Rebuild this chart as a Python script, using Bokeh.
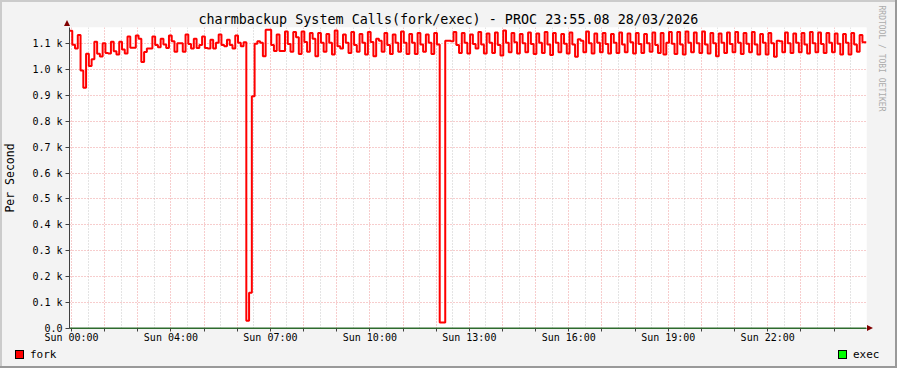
from bokeh.plotting import figure
from bokeh.layouts import column
from bokeh.models import FixedTicker, Range1d, Title, Div
from bokeh.embed import file_html
from bokeh.resources import INLINE

# ---------------- data ----------------
title_text = "charmbackup System Calls(fork/exec) - PROC 23:55.08 28/03/2026"
y_axis_title = "Per Second"
watermark = "RRDTOOL / TOBI OETIKER"
series_names = ["fork", "exec"]
series_colors = ["#ff0000", "#00ff00"]

x_tick_hours = [0, 3, 6, 9, 12, 15, 18, 21]
x_tick_labels = ["Sun 00:00", "Sun 04:00", "Sun 07:00", "Sun 10:00",
                 "Sun 13:00", "Sun 16:00", "Sun 19:00", "Sun 22:00"]
y_tick_values = [0, 100, 200, 300, 400, 500, 600, 700, 800, 900, 1000, 1100]
y_tick_labels = ["0.0", "0.1 k", "0.2 k", "0.3 k", "0.4 k", "0.5 k", "0.6 k",
                 "0.7 k", "0.8 k", "0.9 k", "1.0 k", "1.1 k"]

start_hour = -0.06      # hours since Sun 00:00 (real elapsed time)
end_hour = 23.98
sample_minutes = 5

fork_values = [
    1149, 1095, 1081, 1133, 996, 929, 1061, 1013, 1039, 1107,
    1061, 1050, 1101, 1064, 1062, 1107, 1070, 1058, 1107, 1077,
    1062, 1127, 1084, 1084, 1131, 1119, 1029, 1067, 1081, 1081,
    1127, 1094, 1086, 1119, 1096, 1083, 1131, 1109, 1068, 1101,
    1101, 1068, 1135, 1098, 1081, 1119, 1083, 1094, 1127, 1083,
    1081, 1115, 1081, 1103, 1135, 1094, 1090, 1115, 1094, 1081,
    1131, 1103, 1090, 1105,
    30, 138, 897,
    1099, 1109, 1103, 1051,
    1153, 1153, 1094, 1071, 1135, 1071, 1071, 1147, 1098, 1068,
    1145, 1124, 1060, 1147, 1106, 1068, 1141, 1119, 1051, 1141,
    1103, 1068, 1137, 1103, 1058, 1150, 1090, 1081, 1135, 1103,
    1064, 1145, 1094, 1068, 1137, 1103, 1058, 1145, 1106, 1051,
    1119, 1111, 1068, 1141, 1094, 1060, 1135, 1103, 1068, 1147,
    1103, 1060, 1137, 1103, 1060, 1141, 1096, 1068, 1135, 1103,
    1060, 1141, 1096, 23, 23, 1111, 1111, 1109, 1145, 1094,
    1064,
    1141, 1103, 1062, 1135, 1098, 1081, 1145, 1096, 1062, 1139,
    1103, 1064, 1143, 1094, 1054, 1150, 1103, 1066, 1141, 1105,
    1062, 1137, 1101, 1066, 1143, 1098, 1060, 1139, 1103, 1064,
    1145, 1096, 1056, 1141, 1103, 1066, 1137, 1099, 1062, 1143,
    1096, 1049, 1117, 1111, 1066, 1147, 1101, 1062, 1139, 1103,
    1066, 1141, 1098, 1062, 1137, 1103, 1064, 1143, 1096, 1066,
    1139, 1105, 1062, 1141, 1098, 1064, 1137, 1101, 1068, 1143,
    1094, 1064, 1141,
    1058, 1103, 1145, 1099, 1060, 1145, 1096, 1058, 1147, 1103,
    1066, 1143, 1101, 1064, 1147, 1096, 1062, 1141, 1101, 1051,
    1139, 1103, 1064, 1143, 1098, 1066, 1145, 1103, 1060, 1141,
    1099, 1066, 1145, 1096, 1058, 1137, 1103, 1058, 1141, 1101,
    1049, 1111, 1109, 1066, 1143, 1101, 1064, 1139, 1103, 1066,
    1141, 1096, 1062, 1145, 1101, 1066, 1143, 1098, 1064, 1141,
    1103, 1066, 1139, 1099, 1058, 1137, 1103, 1058, 1141, 1096,
    1068, 1133, 1105,
]
exec_values = [0, 0]

# ---------------- build ----------------
FONT = "DejaVu Sans Mono"
BG = "#f3f3f3"
SHADE_A = "#cbcbcb"
SHADE_B = "#999999"
ARROW = "#800000"

fork_times = [start_hour + i * sample_minutes / 60.0 for i in range(len(fork_values))]
fork_x = fork_times + [end_hour]
fork_y = fork_values + [fork_values[-1]]
exec_x = [start_hour, end_hour]

p = figure(width=897, height=345, output_backend="svg", toolbar_location=None,
           x_range=Range1d(start_hour, end_hour), y_range=Range1d(0, 1162),
           min_border_left=67, min_border_right=30, min_border_top=27,
           min_border_bottom=17)
p.background_fill_color = "#ffffff"
p.border_fill_color = BG
p.outline_line_color = None

# title (above) and watermark (right side, vertical)
p.title.text = title_text
p.title.text_font = FONT
p.title.text_font_size = "13.4px"
p.title.text_font_style = "normal"
p.title.text_color = "#000000"
p.title.align = "left"
p.title.offset = 129
p.title.standoff = 2

p.add_layout(Title(text=watermark, align="left", text_font=FONT, text_font_size="8px",
                   text_font_style="normal", text_color="#ababab", standoff=20,
                   offset=-22), "right")

# axes
hours_all = list(range(0, 24))
half_hours = [h + 0.5 for h in range(-1, 24)]
p.xaxis.ticker = FixedTicker(ticks=hours_all, minor_ticks=half_hours)
overrides = {h: "" for h in hours_all}
for h, lab in zip(x_tick_hours, x_tick_labels):
    overrides[h] = lab
p.xaxis.major_label_overrides = overrides
p.yaxis.ticker = FixedTicker(ticks=y_tick_values)
p.yaxis.major_label_overrides = dict(zip(y_tick_values, y_tick_labels))

for ax in (p.xaxis[0], p.yaxis[0]):
    ax.major_label_text_font = FONT
    ax.major_label_text_font_size = "10px"
    ax.major_label_text_color = "#000000"
    ax.axis_line_color = "#404040"
    ax.major_tick_line_color = "#404040"
    ax.major_tick_in = 0
    ax.minor_tick_in = 0
    ax.minor_tick_out = 0
p.xaxis.major_tick_out = 3
p.xaxis.major_label_standoff = 0
p.xaxis.axis_line_color = "#2d6b2d"
p.yaxis.major_tick_out = 4
p.yaxis.major_label_standoff = 3
p.yaxis.axis_label = y_axis_title
p.yaxis.axis_label_text_font = FONT
p.yaxis.axis_label_text_font_size = "11.5px"
p.yaxis.axis_label_text_font_style = "normal"
p.yaxis.axis_label_text_color = "#000000"
p.yaxis.axis_label_standoff = 12

# grids
p.xgrid.grid_line_color = "#ee9a9a"
p.xgrid.grid_line_dash = "1 2"
p.xgrid.minor_grid_line_color = "#c8c8c8"
p.xgrid.minor_grid_line_dash = "1 2"
p.ygrid.grid_line_color = "#ee9a9a"
p.ygrid.grid_line_dash = "1 2"

# series
p.step(fork_x, fork_y, mode="after", line_color=series_colors[0], line_width=2)
p.line(exec_x, exec_values, line_color="#2d6b2d", line_width=2)

# ---------------- legend strip (HTML below the plot) + frame decorations ----------------
sw = ("position:absolute;top:5px;width:9px;height:9px;box-sizing:border-box;"
      "border:1px solid #000000;")
tx = ("position:absolute;top:3px;font-family:'DejaVu Sans Mono',monospace;"
      "font-size:11px;line-height:13px;color:#000000;white-space:nowrap;")
deco = "position:absolute;pointer-events:none;"
legend_html = (
    f'<div style="position:relative;width:897px;height:23px;background:{BG};overflow:visible;">'
    f'<div style="{sw}left:15px;background:{series_colors[0]};"></div>'
    f'<div style="{tx}left:30px;">{series_names[0]}</div>'
    f'<div style="{sw}left:838px;background:{series_colors[1]};"></div>'
    f'<div style="{tx}left:853px;">{series_names[1]}</div>'
    # 3D frame of the image (top/left light, right/bottom dark)
    f'<div style="{deco}left:0;top:-345px;width:897px;height:2px;background:{SHADE_A};"></div>'
    f'<div style="{deco}left:0;top:-345px;width:2px;height:368px;background:{SHADE_A};"></div>'
    f'<div style="{deco}left:895px;top:-345px;width:2px;height:368px;background:{SHADE_B};"></div>'
    f'<div style="{deco}left:0;top:21px;width:897px;height:2px;background:{SHADE_B};"></div>'
    # axis arrow heads
    f'<div style="{deco}left:867px;top:-20px;width:0;height:0;border-top:3px solid transparent;'
    f'border-bottom:3px solid transparent;border-left:6px solid {ARROW};"></div>'
    f'<div style="{deco}left:64px;top:-325px;width:0;height:0;border-left:3px solid transparent;'
    f'border-right:3px solid transparent;border-bottom:6px solid {ARROW};"></div>'
    f'</div>'
)
legend_div = Div(text=legend_html, width=897, height=23, margin=(0, 0, 0, 0))

layout = column(p, legend_div, spacing=0)
open("out.html", "w").write(file_html(layout, INLINE))
